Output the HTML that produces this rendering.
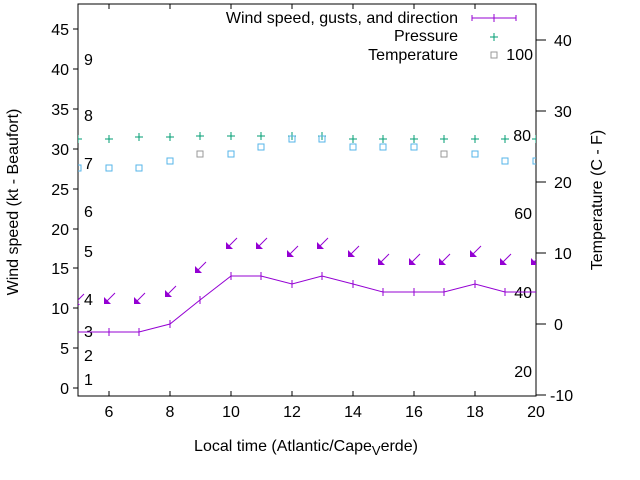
<!DOCTYPE html>
<html><head><meta charset="utf-8"><style>
body{margin:0;background:#fff}
svg{display:block;font-family:"Liberation Sans",sans-serif;font-size:16px}
</style></head><body>
<svg width="640" height="480" viewBox="0 0 640 480">
<defs>
<clipPath id="c"><rect x="78" y="4" width="458" height="392"/></clipPath>
<g id="ar"><line x1="0" y1="0" x2="10" y2="-10" stroke="#9400d3" stroke-width="1"/><polygon points="-1,1 -1,-6 6,1" fill="#9400d3"/></g>
<g id="pl"><path d="M-4 0H4M0 -4V4" stroke="#009e73" stroke-width="1"/></g>
</defs>
<rect x="78" y="4" width="458" height="392" fill="none" stroke="#000"/>
<g stroke="#000">
<path d="M73 388h5M73 348h5M73 308h5M73 268h5M73 229h5M73 189h5M73 149h5M73 109h5M73 69h5M73 29h5"/>
<path d="M109 396v-5M170 396v-5M231 396v-5M292 396v-5M353 396v-5M414 396v-5M475 396v-5M536 396v-5M109 4v5M170 4v5M231 4v5M292 4v5M353 4v5M414 4v5M475 4v5"/>
<path d="M536 40h10M536 111h10M536 182h10M536 253h10M536 324h10M536 395h10"/>
</g>
<g text-anchor="end">
<text x="69" y="394">0</text><text x="69" y="354">5</text><text x="69" y="314">10</text><text x="69" y="274">15</text><text x="69" y="235">20</text><text x="69" y="195">25</text><text x="69" y="155">30</text><text x="69" y="115">35</text><text x="69" y="75">40</text><text x="69" y="35">45</text>
</g>
<g>
<text x="84" y="385">1</text><text x="84" y="361">2</text><text x="84" y="337">3</text><text x="84" y="305">4</text><text x="84" y="257">5</text><text x="84" y="217">6</text><text x="84" y="169">7</text><text x="84" y="121">8</text><text x="84" y="65">9</text>
<text x="554" y="46">40</text><text x="554" y="117">30</text><text x="554" y="188">20</text><text x="554" y="259">10</text><text x="554" y="330">0</text><text x="550" y="401">-10</text>
</g>
<g text-anchor="end">
<text x="533" y="60">100</text><text x="531" y="141">80</text><text x="532" y="219">60</text><text x="532" y="298">40</text><text x="532" y="377">20</text>
</g>
<g text-anchor="middle">
<text x="109" y="417">6</text><text x="170" y="417">8</text><text x="231" y="417">10</text><text x="292" y="417">12</text><text x="353" y="417">14</text><text x="414" y="417">16</text><text x="475" y="417">18</text><text x="536" y="417">20</text>
<text x="306" y="451">Local time (Atlantic/Cape<tspan dy="4" font-size="13">V</tspan><tspan dy="-4">erde)</tspan></text>
</g>
<text transform="translate(18,202) rotate(-90)" text-anchor="middle">Wind speed (kt - Beaufort)</text>
<text transform="translate(602,200) rotate(-90)" text-anchor="middle">Temperature (C - F)</text>
<g clip-path="url(#c)">
<polyline fill="none" stroke="#9400d3" points="78,332 109,332 139,332 170,324 200,300 231,276 261,276 292,284 322,276 353,284 383,292 414,292 444,292 475,284 505,292 536,292"/>
<g stroke="#9400d3"><path d="M109 328v8M139 328v8M170 320v8M200 296v8M231 272v8M261 272v8M292 280v8M322 272v8M353 280v8M383 288v8M414 288v8M444 288v8M475 280v8M505 288v8"/></g>
<use href="#ar" x="74" y="304"/><use href="#ar" x="105" y="303"/><use href="#ar" x="135" y="303"/><use href="#ar" x="166" y="296"/><use href="#ar" x="196" y="272"/><use href="#ar" x="227" y="248"/><use href="#ar" x="257" y="248"/><use href="#ar" x="288" y="256"/><use href="#ar" x="318" y="248"/><use href="#ar" x="349" y="256"/><use href="#ar" x="379" y="264"/><use href="#ar" x="410" y="264"/><use href="#ar" x="440" y="264"/><use href="#ar" x="471" y="256"/><use href="#ar" x="501" y="264"/><use href="#ar" x="532" y="264"/>
<use href="#pl" x="78" y="139"/><use href="#pl" x="109" y="139"/><use href="#pl" x="139" y="137"/><use href="#pl" x="170" y="137"/><use href="#pl" x="200" y="136"/><use href="#pl" x="231" y="136"/><use href="#pl" x="261" y="136"/><use href="#pl" x="292" y="136"/><use href="#pl" x="322" y="136"/><use href="#pl" x="353" y="139"/><use href="#pl" x="383" y="139"/><use href="#pl" x="414" y="139"/><use href="#pl" x="444" y="139"/><use href="#pl" x="475" y="139"/><use href="#pl" x="505" y="139"/><use href="#pl" x="536" y="139"/>
<g fill="none" stroke="#56b4e9">
<rect x="75" y="165" width="6" height="6"/><rect x="106" y="165" width="6" height="6"/><rect x="136" y="165" width="6" height="6"/><rect x="167" y="158" width="6" height="6"/><rect x="197" y="151" width="6" height="6" stroke="#999"/><rect x="228" y="151" width="6" height="6"/><rect x="258" y="144" width="6" height="6"/><rect x="289" y="136" width="6" height="6"/><rect x="319" y="136" width="6" height="6"/><rect x="350" y="144" width="6" height="6"/><rect x="380" y="144" width="6" height="6"/><rect x="411" y="144" width="6" height="6"/><rect x="441" y="151" width="6" height="6" stroke="#999"/><rect x="472" y="151" width="6" height="6"/><rect x="502" y="158" width="6" height="6"/><rect x="533" y="158" width="6" height="6"/>
</g>
</g>
<g text-anchor="end">
<text x="458" y="23">Wind speed, gusts, and direction</text>
<text x="458" y="41">Pressure</text>
<text x="458" y="60">Temperature</text>
</g>
<path d="M472 18h44M494 14v8M472 15v6M516 15v6" stroke="#9400d3"/>
<use href="#pl" x="494" y="37"/>
<rect x="491" y="52" width="6" height="6" fill="none" stroke="#999"/>
</svg>
</body></html>
